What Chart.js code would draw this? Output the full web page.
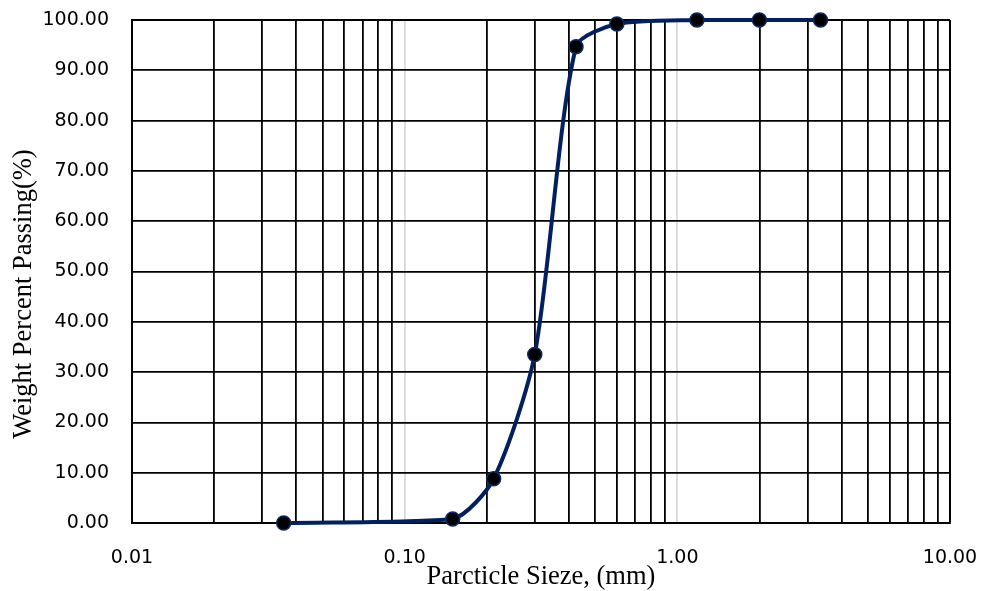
<!DOCTYPE html>
<html>
<head>
<meta charset="utf-8">
<script src="https://cdn.jsdelivr.net/npm/chart.js@4.4.1/dist/chart.umd.min.js"></script>
<style>
  html, body { margin: 0; padding: 0; background: #ffffff; }
  #wrap { width: 982px; height: 591px; position: relative; }
</style>
</head>
<body>
<div id="wrap"><canvas id="c" width="982" height="591"></canvas></div>
<script>
// Sieve sizes (mm) and weight percent passing
const sieveSizes = [0.036, 0.15, 0.212, 0.3, 0.425, 0.6, 1.18, 2.0, 3.35];
const percentPassing = [0, 0.8, 8.8, 33.5, 94.7, 99.2, 100, 100, 100];

// Log-axis grid positions and labelled decades
const xGridValues = [0.01, 0.02, 0.03, 0.04, 0.05, 0.06, 0.07, 0.08, 0.09,
                     0.1, 0.2, 0.3, 0.4, 0.5, 0.6, 0.7, 0.8, 0.9,
                     1, 2, 3, 4, 5, 6, 7, 8, 9, 10];
const xLabelValues = [0.01, 0.1, 1, 10];
const xLabelTexts = ['0.01', '0.10', '1.00', '10.00'];
const xLightGridValues = [0.1, 1];
const yTickValues = [0, 10, 20, 30, 40, 50, 60, 70, 80, 90, 100];

const xTitle = 'Parcticle Sieze, (mm)';
const yTitle = 'Weight Percent Passing(%)';

function same(a, b) { return Math.abs(a - b) < 1e-9 * Math.max(1, Math.abs(b)); }

const axisTitles = {
  id: 'axisTitles',
  afterDraw(chart) {
    const ctx = chart.ctx;
    const area = chart.chartArea;
    ctx.save();
    ctx.fillStyle = '#000000';
    ctx.font = '26.5px "Liberation Serif"';
    ctx.textAlign = 'center';
    ctx.textBaseline = 'alphabetic';
    ctx.fillText(xTitle, (area.left + area.right) / 2, 584);
    ctx.translate(31, 294);
    ctx.rotate(-Math.PI / 2);
    ctx.fillText(yTitle, 0, 0);
    ctx.restore();
  }
};

new Chart(document.getElementById('c'), {
  type: 'line',
  data: {
    datasets: [{
      data: sieveSizes.map((s, i) => ({ x: s, y: percentPassing[i] })),
      borderColor: '#002060',
      borderWidth: 4,
      tension: 0.25,
      clip: false,
      pointRadius: 7,
      pointHoverRadius: 7,
      pointBackgroundColor: '#000000',
      pointBorderColor: '#0b2a66',
      pointBorderWidth: 1.5,
      fill: false
    }]
  },
  options: {
    responsive: false,
    animation: false,
    events: [],
    layout: { padding: { left: 0, right: 32, top: 20, bottom: 0 } },
    plugins: { legend: { display: false }, tooltip: { enabled: false } },
    scales: {
      x: {
        type: 'logarithmic',
        min: 0.01,
        max: 10,
        afterBuildTicks: (scale) => { scale.ticks = xGridValues.map(v => ({ value: v })); },
        afterFit: (scale) => {
          scale.height = 68;
          scale.paddingLeft = 0; scale.paddingRight = 0;
          scale.paddingTop = 0; scale.paddingBottom = 0;
        },
        ticks: {
          autoSkip: false,
          maxRotation: 0,
          padding: 24,
          color: '#000000',
          font: { family: 'DejaVu Sans', size: 19 },
          callback: (value) => {
            const k = xLabelValues.findIndex(v => same(v, value));
            return k >= 0 ? xLabelTexts[k] : '';
          }
        },
        grid: {
          drawTicks: false,
          lineWidth: (ctx) => (ctx.tick && same(ctx.tick.value, 10)) ? 2 : 1.8,
          color: (ctx) => (ctx.tick && xLightGridValues.some(v => same(v, ctx.tick.value))) ? '#d9d9d9' : '#000000'
        },
        border: { display: true, color: '#000000', width: 2 },
        title: { display: false }
      },
      y: {
        type: 'linear',
        min: 0,
        max: 100,
        afterBuildTicks: (scale) => { scale.ticks = yTickValues.map(v => ({ value: v })); },
        afterFit: (scale) => {
          scale.width = 132;
          scale.paddingLeft = 0; scale.paddingRight = 0;
          scale.paddingTop = 0; scale.paddingBottom = 0;
        },
        ticks: {
          padding: 23,
          color: '#000000',
          font: { family: 'DejaVu Sans', size: 19 },
          callback: (value) => Number(value).toFixed(2)
        },
        grid: {
          drawTicks: false,
          lineWidth: (ctx) => (ctx.tick && ctx.tick.value === 100) ? 2 : 1.8,
          color: '#000000'
        },
        border: { display: true, color: '#000000', width: 2 },
        title: { display: false }
      }
    }
  },
  plugins: [axisTitles]
});
</script>
</body>
</html>
